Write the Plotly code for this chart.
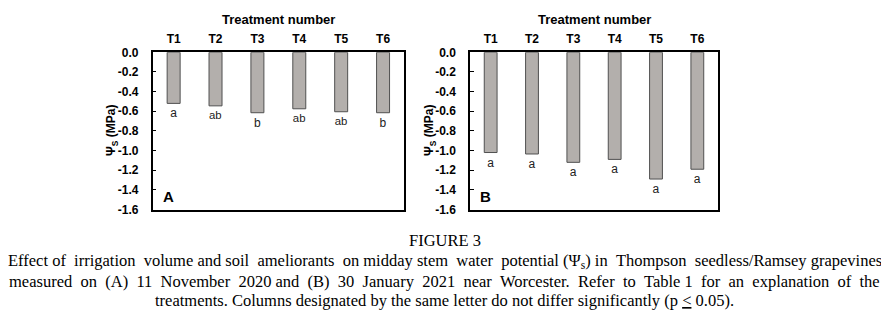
import plotly.graph_objects as go

treatments = ["T1", "T2", "T3", "T4", "T5", "T6"]
psi_a = [-0.52, -0.545, -0.615, -0.575, -0.605, -0.615]
letters_a = ["a", "ab", "b", "ab", "ab", "b"]
psi_b = [-1.02, -1.035, -1.12, -1.09, -1.29, -1.19]
letters_b = ["a", "a", "a", "a", "a", "a"]
ytick_vals = [0.0, -0.2, -0.4, -0.6, -0.8, -1.0, -1.2, -1.4, -1.6]
ytick_text = ["0.0", "-0.2", "-0.4", "-0.6", "-0.8", "-1.0", "-1.2", "-1.4", "-1.6"]

# the page body adds an 8px margin, so the figure is sized/positioned to compensate
OFF = 8
W, H = 889 - OFF, 318 - OFF
fig = go.Figure()

bar_style = dict(marker=dict(color="#b3afac", line=dict(color="#505050", width=1)),
                 width=0.31, textposition="outside", cliponaxis=False,
                 textfont=dict(family="Arial, Liberation Sans", size=12, color="#222"),
                 showlegend=False, hoverinfo="skip")

fig.add_trace(go.Bar(x=treatments, y=psi_a, text=letters_a, xaxis="x", yaxis="y", **bar_style))
fig.add_trace(go.Bar(x=treatments, y=psi_b, text=letters_b, xaxis="x2", yaxis="y2", **bar_style))

px = lambda p: (p - OFF) / W
py = lambda p: 1 - (p - OFF) / H

ydom = [py(209.5), py(52.3)]
xdomA = [px(152.7), px(404)]
xdomB = [px(470), px(718)]

font_b = dict(family="Arial, Liberation Sans", size=12, color="black", weight="bold")

xcommon = dict(type="category", side="top", showline=True, mirror=True, linecolor="black",
               linewidth=1.5, ticks="", tickfont=font_b, showgrid=False, fixedrange=True,
               automargin=False, zeroline=False, ticklabelstandoff=3)
ycommon = dict(range=[-1.6, 0], showline=True, mirror=True, linecolor="black", linewidth=1.5,
               ticks="inside", ticklen=4, tickcolor="black", tickwidth=1,
               tickvals=ytick_vals, ticktext=ytick_text, tickfont=font_b,
               showgrid=False, zeroline=False, ticklabelstandoff=10, domain=ydom,
               automargin=False, fixedrange=True)

fig.update_layout(
    template="none",
    width=W, height=H, margin=dict(l=0, r=0, t=0, b=0, autoexpand=False),
    paper_bgcolor="white", plot_bgcolor="white",
    font=dict(family="Arial, Liberation Sans", color="black"),
    xaxis=dict(domain=xdomA, anchor="y", **xcommon),
    yaxis=dict(anchor="x", **ycommon),
    xaxis2=dict(domain=xdomB, anchor="y2", **xcommon),
    yaxis2=dict(anchor="x2", **ycommon),
    bargap=0.2,
)

ann = []
for dom, ytx, letter in [(xdomA, 112, "A"), (xdomB, 430, "B")]:
    ann.append(dict(text="Treatment number", x=(dom[0] + dom[1]) / 2, y=py(20),
                    xref="paper", yref="paper", showarrow=False, xanchor="center", yanchor="middle",
                    font=dict(family="Arial, Liberation Sans", size=13, color="black", weight="bold")))
    ann.append(dict(text="Ψ<sub>S</sub> (MPa)", x=px(ytx), y=(ydom[0] + ydom[1]) / 2, textangle=-90,
                    xref="paper", yref="paper", showarrow=False, xanchor="center", yanchor="middle",
                    font=font_b))
    ann.append(dict(text=letter, x=dom[0] + 8 / W, y=py(197), xref="paper", yref="paper",
                    showarrow=False, xanchor="left", yanchor="middle",
                    font=dict(family="Arial, Liberation Sans", size=15, color="black", weight="bold")))

def justify(words, n_extra):
    # spread n_extra no-break spaces evenly over the gaps between words
    gaps = len(words) - 1
    out = words[0]
    given = 0
    for i, w in enumerate(words[1:], start=1):
        target = round(n_extra * i / gaps)
        pad = "&nbsp;" * (target - given)
        given = target
        out += " " + pad + w
    return out

cap_font = dict(family="Liberation Serif, Times New Roman", size=16.5, color="black")
line2 = ("Effect of irrigation volume and soil ameliorants on midday stem water potential "
         "(Ψ<sub>s</sub>) in Thompson seedless/Ramsey grapevines").split(" ")
line3 = ("measured on (A) 11 November 2020 and (B) 30 January 2021 near Worcester. "
         "Refer to Table 1 for an explanation of the").split(" ")
cx = px(444.5)
ann.append(dict(text="FIGURE 3", x=cx, y=py(240.5), xref="paper", yref="paper", showarrow=False,
                xanchor="center", yanchor="middle", font=cap_font))
ann.append(dict(text=justify(line2, 8), x=cx, y=py(261), xref="paper", yref="paper",
                showarrow=False, xanchor="center", yanchor="middle", font=cap_font))
ann.append(dict(text=justify(line3, 19), x=cx, y=py(281), xref="paper", yref="paper",
                showarrow=False, xanchor="center", yanchor="middle", font=cap_font))
ann.append(dict(text="treatments. Columns designated by the same letter do not differ significantly (p <u>&lt;</u> 0.05).",
                x=cx, y=py(300), xref="paper", yref="paper", showarrow=False,
                xanchor="center", yanchor="middle", font=cap_font))

fig.update_layout(annotations=ann)
fig.write_html("out.html")
